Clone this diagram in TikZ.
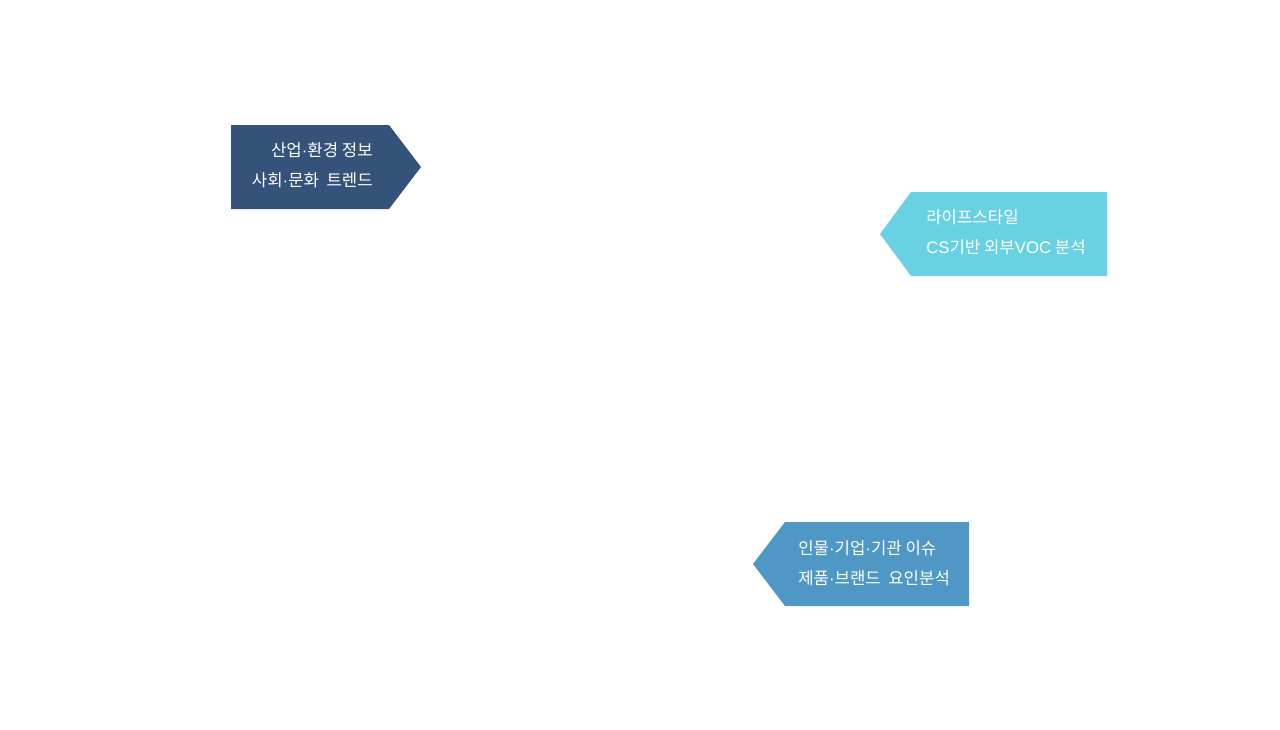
\documentclass[tikz,border=0pt]{standalone}
\usepackage{fontspec}
\newfontfamily\krfont{Noto Sans CJK KR}
\newfontfamily\latfont{Liberation Sans}
\newcommand{\md}{{\latfont\textperiodcentered}}
\newcommand{\lat}[1]{{\latfont #1}}
\definecolor{navy}{HTML}{34527A}
\definecolor{skyblue}{HTML}{68D1E3}
\definecolor{midblue}{HTML}{4F98C6}
\tikzset{
  tag/.style={font=\krfont\fontsize{11.9}{21.5}\selectfont, text=white, inner sep=0pt},
}
\begin{document}
\begin{tikzpicture}[x=0.025cm,y=-0.025cm]
\useasboundingbox (0,0) rectangle (1280,729);
% dark tag, points right
\fill[navy] (231,125)--(389,125)--(421,167)--(389,209)--(231,209)--cycle;
\node[tag, align=right, anchor=east] (trend) at (373,165) {산업\md 환경 정보\\사회\md 문화\ \ 트렌드};
% light tag, points left
\fill[skyblue] (911,192)--(1107,192)--(1107,276)--(911,276)--(880,234)--cycle;
\node[tag, align=left, anchor=west] (voc) at (926,232) {라이프스타일\\\lat{CS}기반 외부\lat{VOC} 분석};
% middle tag, points left
\fill[midblue] (785,522)--(969,522)--(969,606)--(785,606)--(753,564)--cycle;
\node[tag, align=left, anchor=west] (issue) at (798,563) {인물\md 기업\md 기관 이슈\\제품\md 브랜드\ \ 요인분석};
\end{tikzpicture}
\end{document}
